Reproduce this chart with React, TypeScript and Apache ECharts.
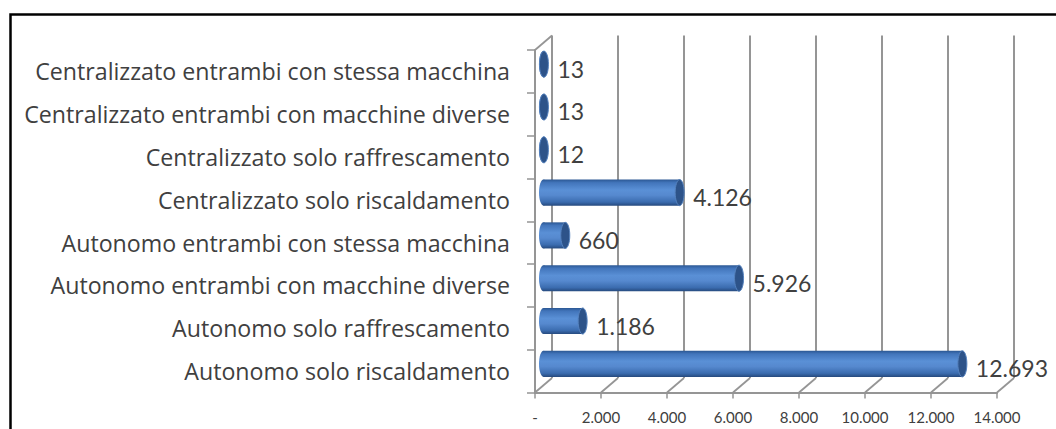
import React, { useEffect, useRef } from "react";
import * as echarts from "echarts";

const categories = [
  "Centralizzato entrambi con stessa macchina",
  "Centralizzato entrambi con macchine diverse",
  "Centralizzato solo raffrescamento",
  "Centralizzato solo riscaldamento",
  "Autonomo entrambi con stessa macchina",
  "Autonomo entrambi con macchine diverse",
  "Autonomo solo raffrescamento",
  "Autonomo solo riscaldamento",
];
const values = [13, 13, 12, 4126, 660, 5926, 1186, 12693];
const axisMax = 14000;
const axisStep = 2000;
const tickValues = [0, 2000, 4000, 6000, 8000, 10000, 12000, 14000];

const FONT = "'Open Sans', Lato, sans-serif";
const NUM_FONT = "Lato, 'Open Sans', sans-serif";
const TEXT = "#404040";
const GRID_GRAY = "#959595";
const DEPTH_X = 17;
const DEPTH_Y = 14.5;

const fmt = (v: number) =>
  String(v).replace(/\B(?=(\d{3})+(?!\d))/g, ".");

export default function App() {
  const ref = useRef<HTMLDivElement>(null);
  useEffect(() => {
    if (!ref.current) return;
    const chart = echarts.init(ref.current, null, { renderer: "svg" });
    const barGrad = () =>
      new echarts.graphic.LinearGradient(0, 0, 0, 1, [
        { offset: 0, color: "#2b5793" },
        { offset: 0.12, color: "#4275bb" },
        { offset: 0.4, color: "#5a90d6" },
        { offset: 0.6, color: "#5689cf" },
        { offset: 0.86, color: "#3b6caf" },
        { offset: 1, color: "#264a7e" },
      ]);
    chart.setOption({
      animation: false,
      backgroundColor: "#ffffff",
      graphic: [
        {
          type: "rect",
          shape: { x: 10.5, y: 14.5, width: 1200, height: 600 },
          style: { fill: "none", stroke: "#000", lineWidth: 2.5 },
          silent: true,
        },
      ],
      grid: [
        { left: 535, right: 1056 - 997, top: 50, bottom: 429 - 392.5 },
        { left: 535 + DEPTH_X, right: 1056 - 997 - DEPTH_X, top: 50 - DEPTH_Y, bottom: 429 - 392.5 + DEPTH_Y },
        { left: 535 + DEPTH_X / 2, right: 1056 - 997 - DEPTH_X / 2, top: 50 - DEPTH_Y / 2, bottom: 429 - 392.5 + DEPTH_Y / 2 },
      ],
      xAxis: [
        {
          gridIndex: 0,
          type: "value",
          min: 0,
          max: axisMax,
          interval: axisStep,
          axisLine: { show: true, lineStyle: { color: GRID_GRAY, width: 2 } },
          axisTick: { show: true, length: 6, lineStyle: { color: GRID_GRAY, width: 1.5 } },
          splitLine: { show: false },
          axisLabel: {
            margin: 17,
            color: TEXT,
            fontFamily: NUM_FONT,
            fontSize: 15,
            formatter: (v: number) => (v === 0 ? "-" : fmt(v)),
          },
        },
        {
          gridIndex: 1,
          type: "value",
          min: 0,
          max: axisMax,
          interval: axisStep,
          axisLine: { show: false },
          axisTick: { show: false },
          axisLabel: { show: false },
          splitLine: { show: true, lineStyle: { color: GRID_GRAY, width: 2 } },
        },
        {
          gridIndex: 2,
          type: "value",
          min: 0,
          max: axisMax,
          show: false,
        },
      ],
      yAxis: [
        {
          gridIndex: 0,
          type: "category",
          data: categories,
          inverse: true,
          axisLine: { show: true, lineStyle: { color: GRID_GRAY, width: 2 } },
          axisTick: { show: true, length: 8, lineStyle: { color: GRID_GRAY, width: 1.5 } },
          axisLabel: {
            margin: 25,
            color: TEXT,
            fontFamily: FONT,
            fontSize: 23.2,
          },
          splitLine: { show: false },
        },
        {
          gridIndex: 1,
          type: "value",
          show: false,
        },
        {
          gridIndex: 2,
          type: "category",
          data: categories,
          inverse: true,
          show: false,
        },
      ],
      series: [
        {
          type: "custom",
          xAxisIndex: 0,
          yAxisIndex: 0,
          silent: true,
          data: tickValues.map((v) => [v, 0]),
          encode: { x: 0, y: 1 },
          renderItem: (params: any, api: any) => {
            const v = api.value(0);
            const cs = params.coordSys;
            const x = api.coord([v, 0])[0];
            const yb = cs.y + cs.height;
            const children: any[] = [
              {
                type: "line",
                shape: { x1: x, y1: yb, x2: x + DEPTH_X, y2: yb - DEPTH_Y },
                style: { stroke: GRID_GRAY, lineWidth: 1.8 },
              },
            ];
            if (v === 0) {
              children.push({
                type: "line",
                shape: { x1: x, y1: cs.y, x2: x + DEPTH_X, y2: cs.y - DEPTH_Y },
                style: { stroke: GRID_GRAY, lineWidth: 1.8 },
              });
            }
            return { type: "group", children };
          },
        },
        {
          type: "custom",
          xAxisIndex: 2,
          yAxisIndex: 2,
          silent: true,
          data: values.map((v, i) => [v, i]),
          encode: { x: 0, y: 1 },
          renderItem: (params: any, api: any) => {
            const v = api.value(0);
            const idx = api.value(1);
            const p0 = api.coord([0, idx]);
            const p1 = api.coord([v, idx]);
            const band = api.size([0, 1])[1];
            const h = band * 0.61;
            const rx = 4.5;
            const cy = p0[1];
            const x0 = p0[0];
            const x1 = p1[0];
            return {
              type: "group",
              children: [
                {
                  type: "ellipse",
                  shape: { cx: x0, cy, rx, ry: h / 2 },
                  style: { fill: barGrad() },
                },
                {
                  type: "rect",
                  shape: { x: x0, y: cy - h / 2, width: Math.max(0, x1 - x0), height: h },
                  style: { fill: barGrad() },
                },
                {
                  type: "ellipse",
                  shape: { cx: x1, cy, rx, ry: h / 2 },
                  style: { fill: "#2d5389", stroke: "#5582be", lineWidth: 1 },
                },
                {
                  type: "text",
                  style: {
                    x: x1 + rx + 9,
                    y: cy + 4.5,
                    text: fmt(v),
                    fill: TEXT,
                    fontFamily: NUM_FONT,
                    fontSize: 23,
                    align: "left",
                    verticalAlign: "middle",
                  },
                },
              ],
            };
          },
        },
      ],
    });
    return () => chart.dispose();
  }, []);
  return (
    <div
      ref={ref}
      style={{ position: "fixed", left: 0, top: 0, width: 1056, height: 429, background: "#fff" }}
    />
  );
}
